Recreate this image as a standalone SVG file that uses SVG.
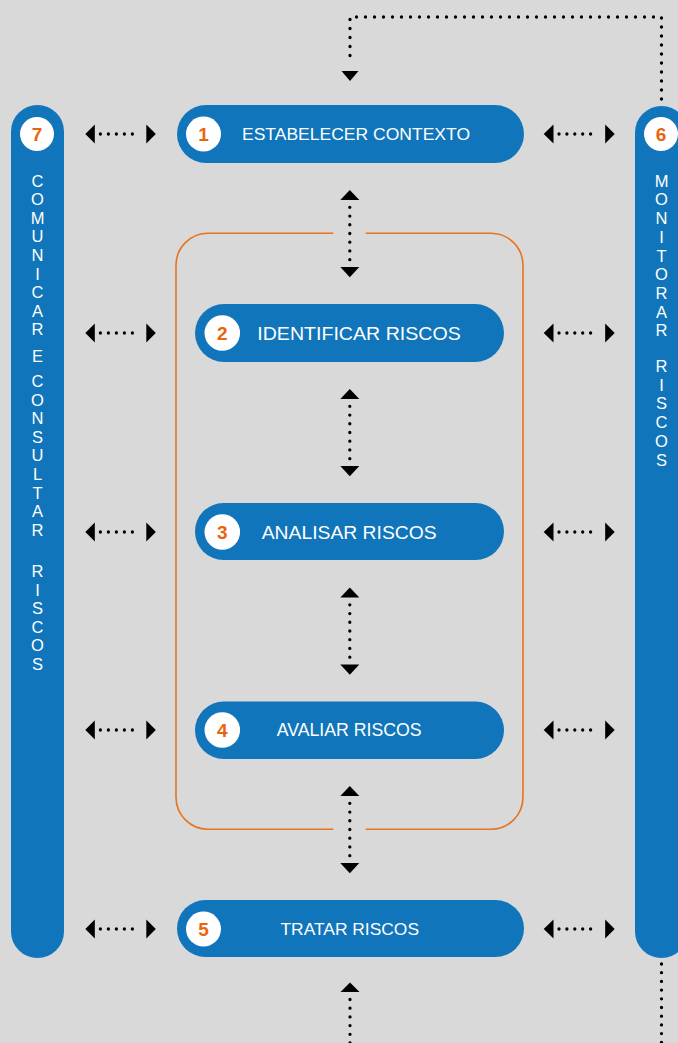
<svg xmlns="http://www.w3.org/2000/svg" width="678" height="1043" viewBox="0 0 678 1043">
<defs>
<style>
.bar{fill:#1075ba}
.node{fill:#1075ba}
.badge{fill:#ffffff}
.num{fill:#e8650f;font-family:"Liberation Sans",Arial,sans-serif;font-weight:bold;font-size:19px;text-anchor:middle}
.lbl{fill:#ffffff;font-family:"Liberation Sans",Arial,sans-serif}
.vt{fill:#ffffff;font-family:"Liberation Sans",Arial,sans-serif;font-size:16.5px;text-anchor:middle}
.dot{fill:none;stroke:#000;stroke-width:3.3;stroke-linecap:round}
.head{fill:#000}
.frame{fill:none;stroke:#e8731e;stroke-width:1.6}
</style>
</defs>
<rect width="678" height="1043" fill="#d9d9d9"/>

<g id="frame">
<path class="frame" d="M333.3,233.3 H208 A32,32 0 0 0 176,265.3 V797.3 A32,32 0 0 0 208,829.3 H333.3"/>
<path class="frame" d="M365.7,233.3 H491 A32,32 0 0 1 523,265.3 V797.3 A32,32 0 0 1 491,829.3 H365.7"/>
</g>

<g id="node7">
<rect class="bar" x="11" y="105" width="53" height="853" rx="26.5"/>
<circle class="badge" cx="37" cy="134" r="17"/>
<text class="num" x="37" y="140.8">7</text>
<text class="vt">
<tspan x="37.5" y="186.5">C</tspan><tspan x="37.5" y="205.1">O</tspan><tspan x="37.5" y="223.7">M</tspan><tspan x="37.5" y="242.3">U</tspan><tspan x="37.5" y="260.9">N</tspan><tspan x="37.5" y="279.5">I</tspan><tspan x="37.5" y="298.1">C</tspan><tspan x="37.5" y="316.7">A</tspan><tspan x="37.5" y="335.3">R</tspan><tspan x="37.5" y="361.5">E</tspan><tspan x="37.5" y="387">C</tspan><tspan x="37.5" y="405.6">O</tspan><tspan x="37.5" y="424.2">N</tspan><tspan x="37.5" y="442.8">S</tspan><tspan x="37.5" y="461.4">U</tspan><tspan x="37.5" y="480">L</tspan><tspan x="37.5" y="498.6">T</tspan><tspan x="37.5" y="517.2">A</tspan><tspan x="37.5" y="535.8">R</tspan><tspan x="37.5" y="577">R</tspan><tspan x="37.5" y="595.6">I</tspan><tspan x="37.5" y="614.2">S</tspan><tspan x="37.5" y="632.8">C</tspan><tspan x="37.5" y="651.4">O</tspan><tspan x="37.5" y="670">S</tspan>
</text>
</g>

<g id="node6">
<rect class="bar" x="635" y="106" width="53" height="852" rx="26.5"/>
<circle class="badge" cx="661" cy="134" r="17"/>
<text class="num" x="661" y="140.8">6</text>
<text class="vt">
<tspan x="661.5" y="186.7">M</tspan><tspan x="661.5" y="205.4">O</tspan><tspan x="661.5" y="224.1">N</tspan><tspan x="661.5" y="242.8">I</tspan><tspan x="661.5" y="261.5">T</tspan><tspan x="661.5" y="280.2">O</tspan><tspan x="661.5" y="298.9">R</tspan><tspan x="661.5" y="317.6">A</tspan><tspan x="661.5" y="336.3">R</tspan><tspan x="661.5" y="372">R</tspan><tspan x="661.5" y="390.7">I</tspan><tspan x="661.5" y="409.4">S</tspan><tspan x="661.5" y="428.1">C</tspan><tspan x="661.5" y="446.8">O</tspan><tspan x="661.5" y="465.5">S</tspan>
</text>
</g>

<g id="node1">
<rect class="node" x="177" y="105" width="347" height="58" rx="29"/>
<circle class="badge" cx="203.5" cy="134" r="17.5"/>
<text class="num" x="203.5" y="140.8">1</text>
<text class="lbl" x="242" y="140" font-size="16.5" textLength="228" lengthAdjust="spacingAndGlyphs">ESTABELECER CONTEXTO</text>
</g>

<g id="node2">
<rect class="node" x="195" y="304" width="309" height="58" rx="29"/>
<circle class="badge" cx="222.3" cy="333" r="17.8"/>
<text class="num" x="222.3" y="339.8">2</text>
<text class="lbl" x="257.3" y="340" font-size="18.5" textLength="203.4" lengthAdjust="spacingAndGlyphs">IDENTIFICAR RISCOS</text>
</g>

<g id="node3">
<rect class="node" x="195" y="503" width="309" height="57" rx="28.5"/>
<circle class="badge" cx="222.3" cy="532" r="17.8"/>
<text class="num" x="222.3" y="538.8">3</text>
<text class="lbl" x="261.7" y="539" font-size="18.5" textLength="175" lengthAdjust="spacingAndGlyphs">ANALISAR RISCOS</text>
</g>

<g id="node4">
<rect class="node" x="195" y="701.5" width="309" height="57.5" rx="28.7"/>
<circle class="badge" cx="222.3" cy="730" r="17.8"/>
<text class="num" x="222.3" y="736.8">4</text>
<text class="lbl" x="276.7" y="736" font-size="17.5" textLength="145" lengthAdjust="spacingAndGlyphs">AVALIAR RISCOS</text>
</g>

<g id="node5">
<rect class="node" x="177" y="900" width="347" height="57" rx="28.5"/>
<circle class="badge" cx="203.5" cy="929" r="17.5"/>
<text class="num" x="203.5" y="935.8">5</text>
<text class="lbl" x="280.5" y="935" font-size="17" textLength="138.5" lengthAdjust="spacingAndGlyphs">TRATAR RISCOS</text>
</g>

<g id="connectors">
<path class="dot" d="M661.5,99 V17 H350 V63" stroke-dasharray="0 9"/>
<polygon class="head" points="341.5,71 358.5,71 350,81"/>
<polygon class="head" points="340.5,992 359.5,992 350,982.5"/>
<line class="dot" x1="350" y1="999.5" x2="350" y2="1045" stroke-dasharray="0 8.7"/>
<line class="dot" x1="661.5" y1="964" x2="661.5" y2="1045" stroke-dasharray="0 8.7"/>

<g id="v12">
<polygon class="head" points="340.3,200 359.3,200 349.8,190"/>
<line class="dot" x1="349.8" y1="207.3" x2="349.8" y2="259.7" stroke-dasharray="0 8.73"/>
<polygon class="head" points="340.3,267 359.3,267 349.8,277.3"/>
</g>
<g id="v23">
<polygon class="head" points="340.3,399 359.3,399 349.8,389"/>
<line class="dot" x1="349.8" y1="406.3" x2="349.8" y2="458.7" stroke-dasharray="0 8.73"/>
<polygon class="head" points="340.3,466 359.3,466 349.8,476.3"/>
</g>
<g id="v34">
<polygon class="head" points="340.3,597.5 359.3,597.5 349.8,587.5"/>
<line class="dot" x1="349.8" y1="604.8" x2="349.8" y2="657.2" stroke-dasharray="0 8.73"/>
<polygon class="head" points="340.3,664.5 359.3,664.5 349.8,674.8"/>
</g>
<g id="v45">
<polygon class="head" points="340.3,796 359.3,796 349.8,786"/>
<line class="dot" x1="349.8" y1="803.3" x2="349.8" y2="855.7" stroke-dasharray="0 8.73"/>
<polygon class="head" points="340.3,863 359.3,863 349.8,873.3"/>
</g>

<g id="hl">
<polygon class="head" points="85.3,134 94.8,124.5 94.8,143.5"/><line class="dot" x1="100.4" y1="134" x2="140.4" y2="134" stroke-dasharray="0 8"/><polygon class="head" points="155.8,134 146.3,124.5 146.3,143.5"/>
<polygon class="head" points="85.3,333 94.8,323.5 94.8,342.5"/><line class="dot" x1="100.4" y1="333" x2="140.4" y2="333" stroke-dasharray="0 8"/><polygon class="head" points="155.8,333 146.3,323.5 146.3,342.5"/>
<polygon class="head" points="85.3,532 94.8,522.5 94.8,541.5"/><line class="dot" x1="100.4" y1="532" x2="140.4" y2="532" stroke-dasharray="0 8"/><polygon class="head" points="155.8,532 146.3,522.5 146.3,541.5"/>
<polygon class="head" points="85.3,730 94.8,720.5 94.8,739.5"/><line class="dot" x1="100.4" y1="730" x2="140.4" y2="730" stroke-dasharray="0 8"/><polygon class="head" points="155.8,730 146.3,720.5 146.3,739.5"/>
<polygon class="head" points="85.3,929 94.8,919.5 94.8,938.5"/><line class="dot" x1="100.4" y1="929" x2="140.4" y2="929" stroke-dasharray="0 8"/><polygon class="head" points="155.8,929 146.3,919.5 146.3,938.5"/>
</g>
<g id="hr">
<polygon class="head" points="543.7,134 553.5,124.5 553.5,143.5"/><line class="dot" x1="559" y1="134" x2="598.5" y2="134" stroke-dasharray="0 7.9"/><polygon class="head" points="614.7,134 605.2,124.5 605.2,143.5"/>
<polygon class="head" points="543.7,333 553.5,323.5 553.5,342.5"/><line class="dot" x1="559" y1="333" x2="598.5" y2="333" stroke-dasharray="0 7.9"/><polygon class="head" points="614.7,333 605.2,323.5 605.2,342.5"/>
<polygon class="head" points="543.7,532 553.5,522.5 553.5,541.5"/><line class="dot" x1="559" y1="532" x2="598.5" y2="532" stroke-dasharray="0 7.9"/><polygon class="head" points="614.7,532 605.2,522.5 605.2,541.5"/>
<polygon class="head" points="543.7,730 553.5,720.5 553.5,739.5"/><line class="dot" x1="559" y1="730" x2="598.5" y2="730" stroke-dasharray="0 7.9"/><polygon class="head" points="614.7,730 605.2,720.5 605.2,739.5"/>
<polygon class="head" points="543.7,929 553.5,919.5 553.5,938.5"/><line class="dot" x1="559" y1="929" x2="598.5" y2="929" stroke-dasharray="0 7.9"/><polygon class="head" points="614.7,929 605.2,919.5 605.2,938.5"/>
</g>
</g>
</svg>
